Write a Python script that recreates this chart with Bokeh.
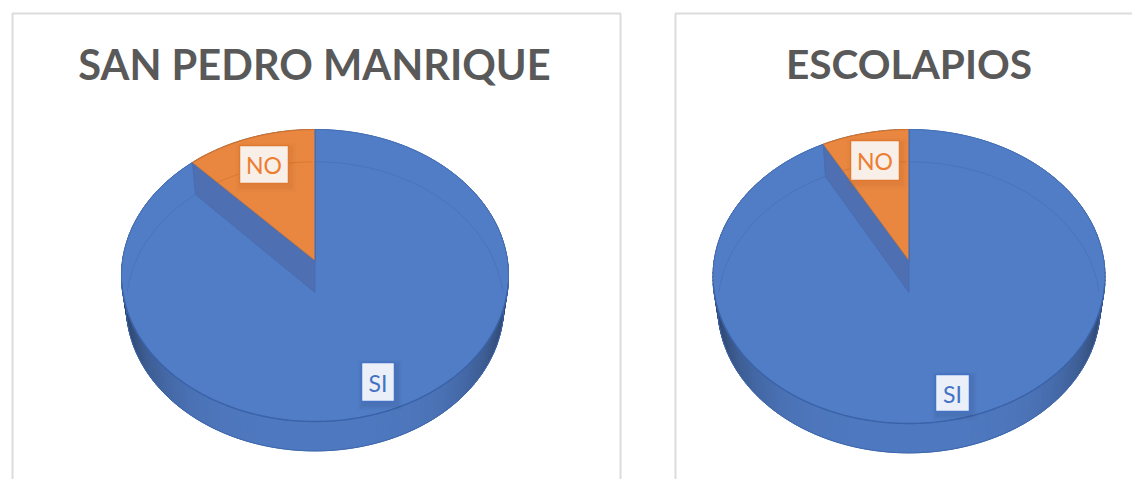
import math
from bokeh.plotting import figure
from bokeh.models import Range1d
from bokeh.core.properties import value
from bokeh.embed import file_html
from bokeh.resources import INLINE

categories = ["SI", "NO"]
titles = ["SAN PEDRO MANRIQUE", "ESCOLAPIOS"]
san_pedro_values = [88, 12]
escolapios_values = [92, 8]

BLUE, ORANGE = "#517dc7", "#e98741"
W, H = 1132, 479
p = figure(width=W, height=H, output_backend="svg", toolbar_location=None,
           x_range=Range1d(0, W), y_range=Range1d(H, 0), min_border=0,
           outline_line_color=None, background_fill_color="white")
p.axis.visible = False
p.grid.visible = False


def mix(c1, c2, t):
    a = [int(c1[i:i + 2], 16) for i in (1, 3, 5)]
    b = [int(c2[i:i + 2], 16) for i in (1, 3, 5)]
    return "#%02x%02x%02x" % tuple(round(x + (y - x) * t) for x, y in zip(a, b))


def draw_panel(left, right, title, title_x, title_size, vals, cx, apex, top, bottom, rx, depth, no_box, si_box):
    # panel border
    p.line([left, left, right, right] if right < W else [left, left, W],
           [H, 13, 13, H] if right < W else [H, 13, 13],
           line_color="#dcdcdc", line_width=2)
    p.text([title_x], [63], text=[title], text_font=value("Lato"),
           text_font_style="bold", text_font_size=title_size, text_color="#595959",
           text_align="center", text_baseline="middle")

    up, down = apex - top, bottom - apex
    k = (down - up) / (down + up)
    b = up * (1 + k)
    a = rx * math.sqrt(1 - k * k)

    def pt(theta, scale=1.0, dy=0.0, sy=1.0):
        s, c = math.sin(theta), math.cos(theta)
        d = 1 + k * c
        return cx + scale * a * s / d, apex + dy - sy * b * c / d

    def arc(t0, t1, n=160, **kw):
        pts = [pt(t0 + (t1 - t0) * i / n, **kw) for i in range(n + 1)]
        return [q[0] for q in pts], [q[1] for q in pts]

    lo = dict(scale=0.975, dy=depth, sy=0.99)
    total = sum(vals)
    split = 2 * math.pi * vals[0] / total

    # side wall, in vertical strips
    n = 240
    xs, ys, cols = [], [], []
    for i in range(n):
        t0, t1 = 2 * math.pi * i / n, 2 * math.pi * (i + 1) / n
        x1, y1 = pt(t0)
        x2, y2 = pt(t1)
        x3, y3 = pt(t1, **lo)
        x4, y4 = pt(t0, **lo)
        xs.append([x1, x2, x3, x4])
        ys.append([y1, y2, y3, y4])
        cols.append(mix("#4e78bf", "#2a3f64", abs(math.sin((t0 + t1) / 2)) ** 4))
    p.patches(xs, ys, fill_color=cols, line_color=cols, line_width=1)
    ax, ay = arc(math.pi / 2, 3 * math.pi / 2, 160, **lo)
    p.line(ax, ay, line_color="#3d66ad", line_width=1)

    # top faces
    sx, sy = arc(0, split)
    p.patch([cx] + sx, [apex] + sy, fill_color=BLUE, line_color="#4470b6", line_width=1)
    fx_, fy_ = arc(math.pi * 0.55, math.pi * 1.45, 160)
    p.line(fx_, fy_, line_color="#3a63a9", line_width=1.4)
    # far rim of the base, seen through the face
    bx, by = arc(-math.pi / 2, math.pi / 2, 200, **lo)
    p.line(bx, by, line_color="#4a74ba", line_width=1)
    # wall of the cut
    ex, ey = pt(split)
    fx, fy = pt(split, **lo)
    p.patch([cx, ex, fx, cx], [apex, ey, fy, apex + depth + 1],
            fill_color="#4e6fb1", line_color="#4a6db2", line_width=1)
    # orange slice
    ox, oy = arc(split, 2 * math.pi, 60)
    p.patch([cx] + ox, [apex] + oy, fill_color=ORANGE, line_color=None)
    p.line(ox, oy, line_color="#cd722e", line_width=1.2)
    p.line([ex, cx], [ey, apex], line_color="#c9732f", line_width=1, line_alpha=0.7)
    p.line([cx, cx], [top, apex + 1], line_color="#3f69ae", line_width=1)
    keep = [(x, y) for x, y in zip(bx, by)
            if (x - cx) * (ey - apex) - (y - apex) * (ex - cx) < 0 and x < cx]
    if keep:
        p.line([q[0] for q in keep], [q[1] for q in keep], line_color="#d8772f", line_width=1)

    # data labels
    for box, name, col, fill, halo in (
        (si_box, categories[0], "#4472c4", "#eaeff8", "#4472c4"),
        (no_box, categories[1], "#ed7d31", "#f9efe9", "#e07a33"),
    ):
        x0, y0, x1, y1 = box
        for g, al in ((6, 0.04), (4, 0.06), (2, 0.08)):
            p.quad(left=[x0 - g + 2], right=[x1 + g + 2], top=[y0 - g + 3], bottom=[y1 + g + 3],
                   fill_color="#30466e" if name == "SI" else "#b85f20", fill_alpha=al, line_color=None)
        p.quad(left=[x0], right=[x1], top=[y0], bottom=[y1], fill_color=fill,
               line_color=halo, line_width=1.5)
        p.text([(x0 + x1) / 2], [(y0 + y1) / 2 + 0.5], text=[name], text_font=value("Lato"),
               text_font_size="23px", text_color=col, text_align="center", text_baseline="middle")


draw_panel(12, 620, titles[0], 314, "41.6px", san_pedro_values, 314.5, 260, 129, 421, 193.5, 31,
           (239, 145, 288, 183), (361, 362, 394, 401))
draw_panel(675, 1200, titles[1], 908.5, "40.6px", escolapios_values, 908.5, 260, 129, 423, 196, 31,
           (850, 140, 899, 180), (935, 374, 969, 411))

open("out.html", "w").write(file_html(p, INLINE))
